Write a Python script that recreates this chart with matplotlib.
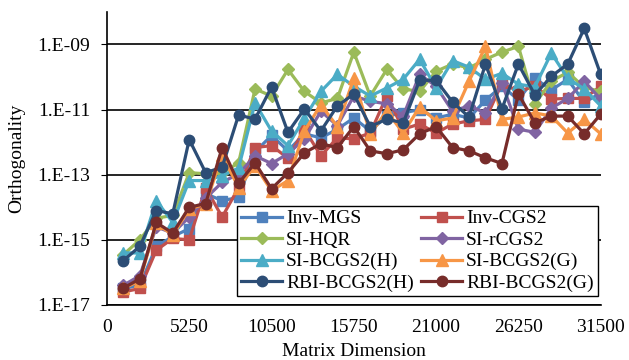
import matplotlib
matplotlib.use("Agg")
import matplotlib.pyplot as plt
from matplotlib.ticker import FixedLocator, NullLocator

plt.rcParams['font.family'] = ['Liberation Serif', 'DejaVu Serif']

# Matrix dimensions (x axis)
dims = [1050, 2100, 3150, 4200, 5250, 6300, 7350, 8400, 9450, 10500,
        11550, 12600, 13650, 14700, 15750, 16800, 17850, 18900, 19950, 21000,
        22050, 23100, 24150, 25200, 26250, 27300, 28350, 29400, 30450, 31500]

inv_mgs = [3.2e-17, 4.0e-17, 6.3e-16, 1.26e-15, 2.2e-15, 2.6e-14, 1.6e-14, 2.0e-14, 5.0e-13, 1.6e-12,
           5.4e-13, 1.8e-12, 1.35e-12, 2.5e-12, 5.5e-12, 2.2e-12, 6.3e-12, 7.9e-12, 1.0e-11, 5.5e-12,
           7.2e-12, 5.5e-12, 1.95e-11, 5.2e-11, 2.0e-11, 9.1e-11, 4.0e-11, 8.5e-11, 1.66e-11, 3.2e-11]
inv_cgs2 = [2.5e-17, 3.2e-17, 4.8e-16, 1.1e-15, 1.0e-15, 4.0e-14, 5.0e-15, 4.0e-14, 6.8e-13, 7.8e-13,
            3.2e-13, 2.5e-12, 3.8e-13, 1.35e-12, 1.26e-12, 1.9e-12, 2.6e-11, 2.5e-12, 3.6e-12, 1.9e-12,
            3.6e-12, 4.5e-12, 5.0e-12, 6.5e-11, 3.6e-11, 5.2e-11, 2.1e-11, 2.2e-11, 2.2e-11, 5.2e-11]
si_hqr = [3.5e-16, 1.0e-15, 4.6e-15, 5.6e-15, 1.15e-13, 1.07e-13, 1.15e-13, 2.3e-13, 4.3e-11, 2.6e-11,
          1.7e-10, 3.6e-11, 1.6e-11, 2.2e-11, 5.8e-10, 2.6e-11, 1.7e-10, 4.3e-11, 3.6e-11, 1.5e-10,
          2.5e-10, 1.9e-10, 3.5e-10, 5.8e-10, 8.7e-10, 1.5e-11, 7.4e-11, 1.4e-10, 4.8e-11, 3.6e-11]
si_rcgs2 = [4.0e-17, 7.9e-17, 2.5e-15, 1.6e-15, 5.0e-15, 1.9e-14, 5.8e-14, 1.07e-13, 3.8e-13, 2.2e-13,
            4.4e-13, 1.26e-12, 8.9e-12, 3.2e-12, 2.6e-11, 1.8e-11, 1.5e-11, 6.3e-12, 1.2e-10, 5.2e-11,
            8.9e-12, 1.3e-11, 7.9e-12, 6.5e-11, 2.5e-12, 2.0e-12, 1.1e-11, 2.2e-11, 7.4e-11, 2.1e-11]
si_bcgs2_h = [4.0e-16, 3.9e-16, 1.6e-14, 3.4e-15, 6.6e-14, 6.6e-14, 9.3e-14, 1.6e-13, 1.6e-11, 2.2e-12,
              7.8e-13, 5.5e-12, 3.6e-11, 1.2e-10, 5.2e-11, 2.6e-11, 4.6e-11, 8.5e-11, 3.5e-10, 4.6e-11,
              3.2e-10, 2.0e-10, 8.5e-11, 1.3e-10, 6.0e-11, 5.0e-11, 5.4e-10, 9.1e-11, 4.3e-11, 1.3e-11]
si_bcgs2_g = [3.2e-17, 5.6e-17, 3.2e-15, 1.4e-15, 8.9e-15, 1.26e-14, 4.0e-13, 4.0e-14, 1.9e-13, 3.2e-14,
              6.6e-14, 2.2e-12, 1.4e-11, 3.0e-12, 9.1e-11, 1.8e-12, 8.9e-12, 1.9e-12, 1.2e-11, 4.5e-12,
              5.5e-12, 7.4e-11, 8.7e-10, 5.0e-12, 5.9e-12, 7.9e-12, 6.3e-12, 1.9e-12, 5.0e-12, 1.8e-12]
rbi_bcgs2_h = [2.3e-16, 6.3e-16, 7.9e-15, 6.3e-15, 1.2e-12, 1.15e-13, 1.7e-13, 6.8e-12, 5.1e-12, 4.9e-11,
               2.0e-12, 1.05e-11, 2.2e-12, 1.3e-11, 3.0e-11, 3.0e-12, 5.1e-12, 3.9e-12, 7.9e-11, 7.9e-11,
               1.7e-11, 5.9e-12, 2.5e-10, 1.05e-11, 2.5e-10, 2.8e-11, 1.05e-10, 2.5e-10, 3.1e-09, 1.2e-10]
rbi_bcgs2_g = [3.3e-17, 6.3e-17, 3.4e-15, 1.6e-15, 1.0e-14, 1.3e-14, 6.8e-13, 5.4e-14, 2.3e-13, 3.7e-14,
               1.15e-13, 4.7e-13, 8.9e-13, 6.8e-13, 3.0e-12, 5.4e-13, 4.4e-13, 5.8e-13, 1.8e-12, 3.0e-12,
               6.8e-13, 5.4e-13, 3.3e-13, 2.2e-13, 3.0e-11, 3.9e-12, 6.3e-12, 6.3e-12, 1.8e-12, 7.2e-12]

series_names = ["Inv-MGS", "Inv-CGS2", "SI-HQR", "SI-rCGS2",
                "SI-BCGS2(H)", "SI-BCGS2(G)", "RBI-BCGS2(H)", "RBI-BCGS2(G)"]
series_values = [inv_mgs, inv_cgs2, si_hqr, si_rcgs2,
                 si_bcgs2_h, si_bcgs2_g, rbi_bcgs2_h, rbi_bcgs2_g]

x_ticks = [0, 5250, 10500, 15750, 21000, 26250, 31500]
y_ticks = [1e-17, 1e-15, 1e-13, 1e-11, 1e-9]
y_tick_labels = ["1.E-17", "1.E-15", "1.E-13", "1.E-11", "1.E-09"]

styles = [
    dict(color="#4F81BD", marker="s", ms=7.5),
    dict(color="#C0504D", marker="s", ms=7.5),
    dict(color="#9BBB59", marker="D", ms=6),
    dict(color="#8064A2", marker="D", ms=6),
    dict(color="#4BACC6", marker="^", ms=8),
    dict(color="#F79646", marker="^", ms=8),
    dict(color="#2C4D75", marker="o", ms=7.5),
    dict(color="#772C2A", marker="o", ms=7.5),
]

FS = 14

fig = plt.figure(figsize=(6.29, 3.6), dpi=100)
ax = fig.add_axes([0.170, 0.153, 0.785, 0.814])

handles = []
for name, vals, st in zip(series_names, series_values, styles):
    h, = ax.plot(dims, vals, color=st["color"], marker=st["marker"],
                 markersize=st["ms"], markerfacecolor=st["color"],
                 markeredgecolor=st["color"], linewidth=2.3, label=name,
                 zorder=3)
    handles.append(h)

ax.set_yscale("log")
ax.set_xlim(0, 31500)
ax.set_ylim(1e-17, 1e-8)
ax.yaxis.set_major_locator(FixedLocator(y_ticks))
ax.yaxis.set_minor_locator(NullLocator())
ax.set_yticklabels(y_tick_labels)
ax.set_xticks(x_ticks)
ax.set_xticklabels([str(t) for t in x_ticks])

ax.grid(axis="y", color="black", linewidth=1.2, zorder=0)
ax.set_axisbelow(True)
for side in ("top", "right"):
    ax.spines[side].set_visible(False)
for side in ("left", "bottom"):
    ax.spines[side].set_color("black")
    ax.spines[side].set_linewidth(1.2)

ax.tick_params(axis="x", length=0, labelsize=FS, pad=10)
ax.tick_params(axis="y", length=4, direction="out", labelsize=FS, pad=8)

ax.set_xlabel("Matrix Dimension", fontsize=FS, labelpad=5)
ax.set_ylabel("Orthogonality", fontsize=FS, labelpad=9)

# two columns, filled row by row
order = [0, 2, 4, 6, 1, 3, 5, 7]
leg = ax.legend([handles[i] for i in order], [series_names[i] for i in order],
                ncol=2, loc="lower right",
                bbox_to_anchor=(0.994, 0.031),
                fontsize=FS, frameon=True, fancybox=False, framealpha=1,
                edgecolor="black", handlelength=2.1, handletextpad=0.2,
                borderpad=0.2, labelspacing=0.2, columnspacing=0.4,
                borderaxespad=0)
leg.get_frame().set_linewidth(1.0)
leg.set_zorder(5)

fig.savefig("out.png", dpi=100)
